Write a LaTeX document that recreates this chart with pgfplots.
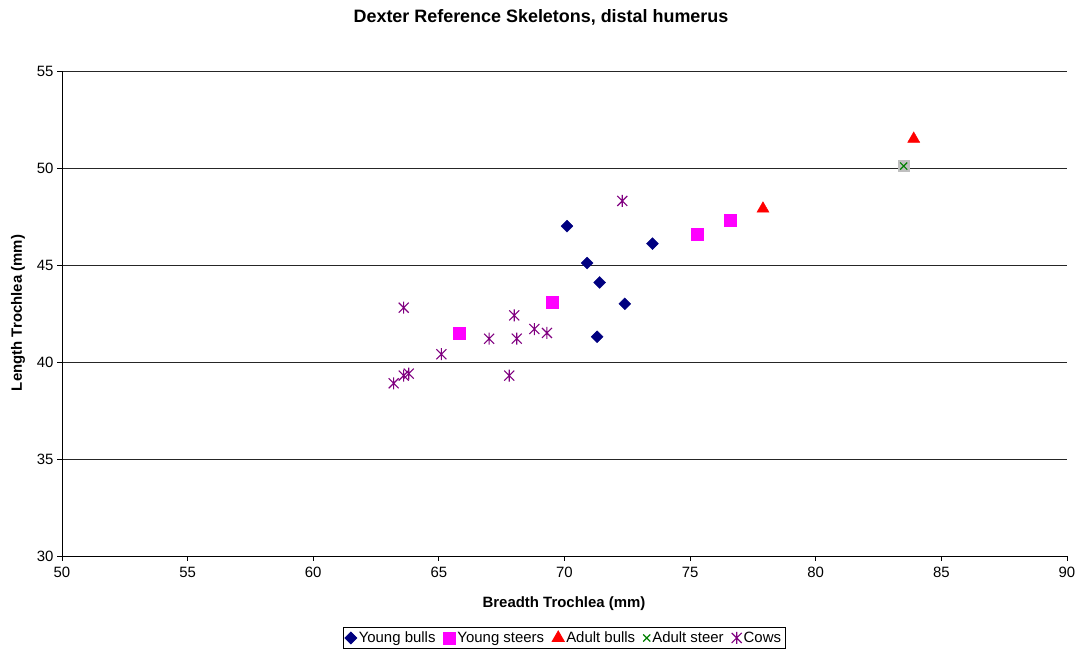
\documentclass[border=0pt]{standalone}
\usepackage{pgfplots}
\pgfplotsset{compat=1.18}
\usepackage{fontspec}
\setmainfont{Liberation Sans}

\pgfdeclareplotmark{xstar}{%
  \pgfpathmoveto{\pgfqpoint{-\pgfplotmarksize}{-\pgfplotmarksize}}%
  \pgfpathlineto{\pgfqpoint{\pgfplotmarksize}{\pgfplotmarksize}}%
  \pgfpathmoveto{\pgfqpoint{-\pgfplotmarksize}{\pgfplotmarksize}}%
  \pgfpathlineto{\pgfqpoint{\pgfplotmarksize}{-\pgfplotmarksize}}%
  \pgfpathmoveto{\pgfqpoint{0pt}{-1.2\pgfplotmarksize}}%
  \pgfpathlineto{\pgfqpoint{0pt}{1.2\pgfplotmarksize}}%
  \pgfusepathqstroke}

\definecolor{ybull}{RGB}{0,0,128}
\definecolor{ysteer}{RGB}{255,0,255}
\definecolor{abull}{RGB}{255,0,0}
\definecolor{asteer}{RGB}{0,128,0}
\definecolor{cows}{RGB}{128,0,128}

\begin{document}
\begin{tikzpicture}[x=1bp,y=1bp]
\useasboundingbox (0,0) rectangle (1081,655);
\begin{axis}[
    at={(62bp,99bp)}, anchor=south west,
    scale only axis, width=1005bp, height=485bp,
    xmin=50, xmax=90, ymin=30, ymax=55,
    xtick={50,55,...,90}, ytick={30,35,...,55},
    axis lines=left, axis line style={-, black, line width=0.8pt},
    tick align=outside, major tick length=5bp,
    tick style={black, line width=0.8pt},
    ymajorgrids, grid style={black!85, line width=0.8pt},
    /pgf/number format/assume math mode=true,
    ticklabel style={font=\fontsize{15}{17}\selectfont},
    xticklabel style={yshift=-3bp},
    clip=false,
    legend style={at={(0.4995,-0.169)}, anchor=center, legend columns=-1,
      draw=black, line width=0.8pt, font=\fontsize{15}{17}\selectfont,
      /tikz/every even column/.append style={column sep=6bp},
      inner sep=2bp},
    legend cell align=left,
    ]
\addplot[only marks, mark=square*, mark size=4.2bp, mark options={rotate=45, fill=ybull, draw=ybull}] coordinates {
(70.1,47.0) (70.9,45.1) (71.4,44.1) (73.5,46.1) (72.4,43.0) (71.3,41.3)};
\addlegendentry{Young bulls}
\addplot[only marks, mark=square*, mark size=6bp, mark options={fill=ysteer, draw=ysteer}] coordinates {
(65.8,41.5) (69.5,43.1) (75.3,46.6) (76.6,47.3)};
\addlegendentry{Young steers}
\addplot[only marks, mark=triangle*, mark size=7bp, mark options={fill=abull, draw=abull}] coordinates {
(77.9,47.9) (83.9,51.5)};
\addlegendentry{Adult bulls}
\addplot[only marks, mark=square*, mark size=5.5bp, mark options={fill=black!25, draw=black!25}, forget plot] coordinates {
(83.5,50.1)};
\addplot[only marks, mark=x, mark size=5bp, mark options={draw=asteer, line width=1.2pt}] coordinates {
(83.5,50.1)};
\addlegendentry{Adult steer}
\addplot[only marks, mark=xstar, mark size=5bp, mark options={draw=cows, line width=1.1pt}] coordinates {
(63.6,42.8) (63.2,38.9) (63.6,39.3) (63.8,39.4) (65.1,40.4) (67.0,41.2)
(68.0,42.4) (68.1,41.2) (67.8,39.3) (68.8,41.7) (69.3,41.5) (72.3,48.3)};
\addlegendentry{Cows}
\end{axis}
\node[font=\bfseries\fontsize{18}{20}\selectfont] at (541,638) {Dexter Reference Skeletons, distal humerus};
\node[font=\bfseries\fontsize{15}{17}\selectfont] at (564,51) {Breadth Trochlea (mm)};
\node[font=\bfseries\fontsize{15}{17}\selectfont, rotate=90] at (18,342) {Length Trochlea (mm)};
\end{tikzpicture}
\end{document}
